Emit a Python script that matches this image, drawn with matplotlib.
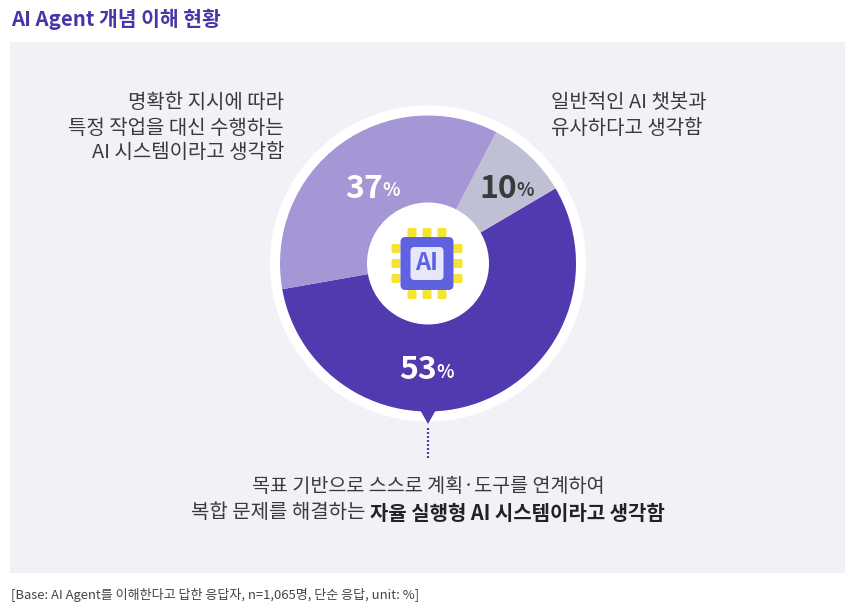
#!/usr/bin/env python3
#  -*- coding: utf-8 -*-
import matplotlib
matplotlib.use('Agg')
import matplotlib.pyplot as plt
from matplotlib.patches import Rectangle, Circle, FancyBboxPatch, Polygon

plt.rcParams['font.family'] = ['Noto Sans CJK KR', 'DejaVu Sans']

title = 'AI Agent 개념 이해 현황'
footnote = '[Base: AI Agent를 이해한다고 답한 응답자, n=1,065명, 단순 응답, unit: %]'
percents = [53, 10, 37]
# wedge sizes as measured on the picture, it does not draw them exactly to the labels
wedge_sizes = [55.7, 8.9, 35.4]
wedge_colors = ['#5139b0', '#bfc0d4', '#a596d6']
pct_colors = ['white', '#3a3a3a', 'white']
text_dark = '#3a3a3a'
purple = '#5139b0'

W, H = 856, 616
fig = plt.figure(figsize=(W / 100, H / 100), dpi=100)
ax = fig.add_axes([0, 0, 1, 1])
ax.set_xlim(0, W)
ax.set_ylim(0, H)
ax.axis('off')


# positions below are read in image pixels, y from the top
def py(y):
    return H - y


cx, cy = 428, py(263.5)

ax.text(11, py(19), title, fontsize=14.7, fontweight='bold', color='#4a35a8', va='center', ha='left')
ax.add_patch(Rectangle((10, py(573)), 835, 531, color='#f1f2f6', lw=0, zorder=0))
ax.text(11, py(595), footnote, fontsize=9.4, color='#444444', va='center', ha='left')

# white ring, pointer and pie
ax.add_patch(Circle((cx, cy), 158, color='white', lw=0, zorder=1))
ax.add_patch(Polygon([(419, py(408)), (437, py(408)), (428, py(424))], color=purple, lw=0, zorder=3))
ax.plot([428, 428], [py(428), py(460)], color=purple, lw=1.6, ls=(0, (0.9, 0.9)), zorder=3)
ax.pie(wedge_sizes, colors=wedge_colors, startangle=190, counterclock=True, center=(cx, cy),
       radius=148, frame=False, wedgeprops={'linewidth': 0, 'zorder': 2})
ax.set_xlim(0, W)
ax.set_ylim(0, H)
ax.set_aspect('auto')
ax.add_patch(Circle((cx, cy), 61, color='white', lw=0, zorder=4))

# chip icon
yellow = '#f7e331'
chip_x = 427
for p in (-15, 0, 15):
    for (dx, dy) in ((p, -31), (p, 31), (-31, p), (31, p)):
        ax.add_patch(FancyBboxPatch((chip_x + dx - 3, cy + dy - 3), 6, 6, boxstyle='round,pad=1.5,rounding_size=1.5',
                                    color=yellow, lw=0, zorder=5))
ax.add_patch(FancyBboxPatch((chip_x - 23, cy - 23), 46, 46, boxstyle='round,pad=3.5,rounding_size=5',
                            color='#5f62e0', lw=0, zorder=6))
ax.add_patch(FancyBboxPatch((chip_x - 13, cy - 13), 26, 26, boxstyle='round,pad=3.5,rounding_size=4',
                            color='#e6e8fa', lw=0, zorder=7))
ax.text(chip_x, cy + 1, 'AI', fontsize=17, fontweight='bold', color='#5f62e0', ha='center', va='center', zorder=8)

# percent labels
pct_pos = [(427, 370), (507, 189), (373, 189)]
fig.canvas.draw()
rend = fig.canvas.get_renderer()
for v, (x, y), c in zip(percents, pct_pos, pct_colors):
    t1 = ax.text(x, py(y), str(v), fontsize=23, fontweight='bold', color=c, ha='left', va='center', zorder=5)
    t2 = ax.text(x, py(y + 2), '%', fontsize=13, fontweight='bold', color=c, ha='left', va='center', zorder=5)
    w1 = t1.get_window_extent(rend).width
    w2 = t2.get_window_extent(rend).width
    t1.set_x(x - (w1 + w2) / 2)
    t2.set_x(x - (w1 + w2) / 2 + w1 - 1)

# category labels
fs = 14.4
ax.text(284, py(103), '명확한 지시에 따라', fontsize=fs, color=text_dark, ha='right', va='center')
ax.text(284, py(128), '특정 작업을 대신 수행하는', fontsize=fs, color=text_dark, ha='right', va='center')
ax.text(284, py(153), 'AI 시스템이라고 생각함', fontsize=fs, color=text_dark, ha='right', va='center')
ax.text(551, py(103), '일반적인 AI 챗봇과', fontsize=fs, color=text_dark, ha='left', va='center')
ax.text(551, py(128), '유사하다고 생각함', fontsize=fs, color=text_dark, ha='left', va='center')
ax.text(428, py(487), '목표 기반으로 스스로 계획·도구를 연계하여', fontsize=14.1, color=text_dark, ha='center', va='center')

a = ax.text(0, py(513), '복합 문제를 해결하는', fontsize=fs, color=text_dark, ha='left', va='center')
b = ax.text(0, py(513), '자율 실행형 AI 시스템이라고 생각함', fontsize=fs, fontweight='bold', color='#222222',
            ha='left', va='center')
wa = a.get_window_extent(rend).width + 5
wb = b.get_window_extent(rend).width
a.set_x(428 - (wa + wb) / 2)
b.set_x(428 - (wa + wb) / 2 + wa)

fig.savefig('out.png', dpi=100)
